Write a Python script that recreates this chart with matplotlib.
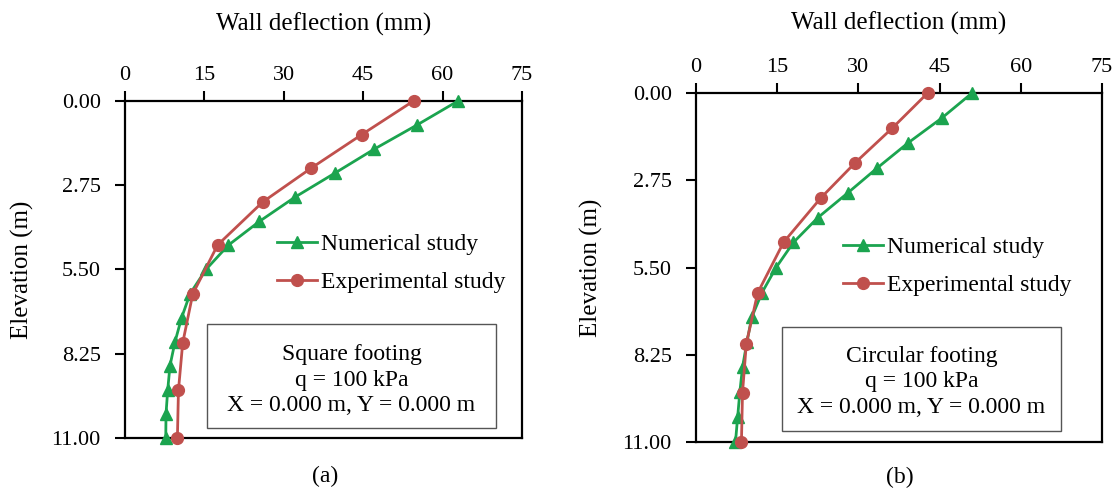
import numpy as np
import matplotlib.pyplot as plt
from matplotlib.patches import Rectangle

plt.rcParams['font.family'] = ['Liberation Serif', 'DejaVu Serif']

# depths (m)
num_depth = [0, 0.79, 1.57, 2.36, 3.14, 3.93, 4.71, 5.5, 6.29, 7.07, 7.86, 8.64, 9.43, 10.21, 11.0]
exp_depth = [0, 1.1, 2.2, 3.3, 4.7, 6.3, 7.9, 9.44, 11.0]

# wall deflection (mm)
sq_num = [62.9, 55.1, 47.1, 39.6, 32.1, 25.4, 19.5, 15.3, 12.3, 10.7, 9.45, 8.5, 8.07, 7.75, 7.7]
sq_exp = [54.5, 44.7, 35.1, 26.0, 17.5, 12.8, 10.9, 10.1, 9.9]
ci_num = [51.0, 45.4, 39.2, 33.5, 28.1, 22.5, 18.0, 14.8, 12.2, 10.3, 9.4, 8.6, 8.1, 7.7, 7.3]
ci_exp = [42.8, 36.3, 29.4, 23.1, 16.2, 11.4, 9.3, 8.6, 8.4]

xticks = [0, 15, 30, 45, 60, 75]
yticks = [0, 2.75, 5.5, 8.25, 11]

green = '#1BA44F'
red = '#C0504D'

fig = plt.figure(figsize=(11.2, 4.93), dpi=100)

panels = [
    # rect, num, exp, box text, legend anchor, box rect, box text pos, title y, tag pos
    ([0.1116, 0.1116, 0.3545, 0.6836], sq_num, sq_exp, "Square footing",
     (0.383, 0.519), (0.2066, 0.030, 0.7279, 0.308), (0.5705, 0.172), 1.228, (325, 476), "(a)"),
    ([0.6214, 0.1034, 0.3625, 0.7079], ci_num, ci_exp, "Circular footing",
     (0.362, 0.504), (0.212, 0.032, 0.687, 0.298), (0.5554, 0.172), 1.20, (900, 477), "(b)"),
]

for rect, num, exp, name, leg_xy, box, txt_xy, ty, tag_xy, tag in panels:
    ax = fig.add_axes(rect)
    ax.plot(num, num_depth, color=green, lw=2.0, marker='^', ms=8.5,
            label='Numerical study', clip_on=False, zorder=3)
    ax.plot(exp, exp_depth, color=red, lw=2.0, marker='o', ms=8.5,
            label='Experimental study', clip_on=False, zorder=4)
    ax.set_xlim(0, 75)
    ax.set_ylim(11, 0)
    ax.set_xticks(xticks)
    ax.set_yticks(yticks)
    ax.set_yticklabels(['%.2f' % v for v in yticks])
    ax.xaxis.tick_top()
    ax.tick_params(axis='x', top=True, bottom=False, direction='out', length=7,
                   width=1.5, pad=4.5, labelsize=16)
    ax.tick_params(axis='y', left=True, right=False, direction='out', length=7,
                   width=1.5, pad=10.5, labelsize=16)
    for s in ax.spines.values():
        s.set_linewidth(1.6)
    ax.text(0.5, ty, 'Wall deflection (mm)', transform=ax.transAxes,
            ha='center', va='center', fontsize=18)
    ax.text(-0.257, 0.5, 'Elevation (m)', transform=ax.transAxes,
            ha='center', va='center', rotation=90, fontsize=18)
    ax.legend(loc='center left', bbox_to_anchor=leg_xy, frameon=False,
              fontsize=17, handlelength=1.7, handletextpad=0.15,
              labelspacing=0.7, borderpad=0, borderaxespad=0)
    ax.add_patch(Rectangle((box[0], box[1]), box[2], box[3], transform=ax.transAxes,
                           fill=False, edgecolor='#555555', lw=1.0, zorder=5))
    ax.text(txt_xy[0], txt_xy[1], name + "\nq = 100 kPa\nX = 0.000 m, Y = 0.000 m",
            transform=ax.transAxes, ha='center', va='center', fontsize=17,
            linespacing=1.3, zorder=6)
    fig.text(tag_xy[0] / 1120, 1 - tag_xy[1] / 493, tag, ha='center', va='center',
             fontsize=17)

fig.savefig('out.png', dpi=100)
